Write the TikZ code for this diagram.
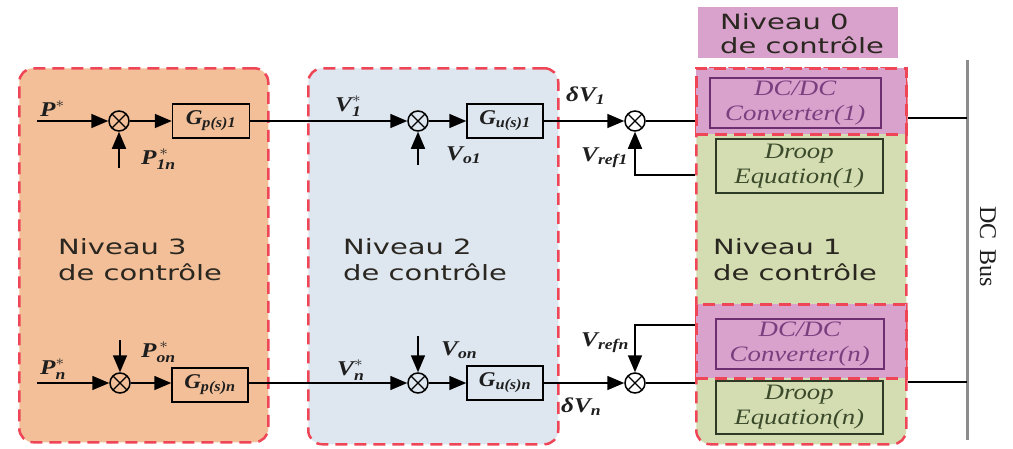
\documentclass[tikz,border=0pt]{standalone}
\usepackage{amsmath}
\usepackage{graphicx}
\usepackage{fontspec}
\setmainfont{Liberation Serif}
\newfontfamily\lvlfont{DejaVu Sans}
\usetikzlibrary{arrows.meta}
\definecolor{orangebg}{HTML}{F2BF98}
\definecolor{bluebg}{HTML}{DEE6EF}
\definecolor{greenbg}{HTML}{D4DDB2}
\definecolor{pinkbg}{HTML}{D8A2CC}
\definecolor{dashred}{HTML}{EE4656}
\definecolor{purpleb}{HTML}{6E2F70}
\definecolor{purplet}{HTML}{7B3F80}
\definecolor{olivet}{HTML}{3B4A2B}
\definecolor{oliveb}{HTML}{2F3A26}
\definecolor{labelc}{HTML}{1E1E1E}
\definecolor{lvlc}{HTML}{2A2620}
\definecolor{busgray}{HTML}{8C8C8C}
\newcommand\xsc[2]{\scalebox{#1}[1]{#2}}
\begin{document}
\begin{tikzpicture}[x=1pt,y=-1pt,
  lvl/.style={draw=dashred, line width=2.5pt, dash pattern=on 12pt off 7pt,
    rounded corners=14pt, anchor=north west, inner sep=0pt},
  region/.style={draw=dashred, line width=2.5pt, dash pattern=on 12pt off 7pt,
    fill=pinkbg, anchor=north west, inner sep=0pt},
  blk/.style={draw, line width=1.5pt, inner sep=0pt, anchor=north west},
  convbox/.style={blk, draw=purpleb, text=purplet,
    font=\fontsize{22}{25}\selectfont\itshape},
  droopbox/.style={blk, draw=oliveb, text=olivet,
    font=\fontsize{22}{25}\selectfont\itshape},
  gbox/.style={draw, line width=1.5pt, inner sep=0pt, minimum width=77pt,
    minimum height=34pt, text=labelc,
    font=\fontsize{21}{23}\selectfont\bfseries\itshape},
  sumnode/.style={circle, draw, line width=1.5pt, minimum size=20pt, inner sep=0pt,
    path picture={\draw[line width=1.2pt]
      (path picture bounding box.north west) -- (path picture bounding box.south east)
      (path picture bounding box.north east) -- (path picture bounding box.south west);}},
  arr/.style={-{Triangle[length=17pt,width=14pt]}, line width=1.6pt},
  ln/.style={line width=1.6pt},
  lbl/.style={font=\fontsize{21}{23}\selectfont\bfseries\itshape, inner sep=0pt,
    anchor=base west, text=labelc},
  lvltxt/.style={font=\lvlfont\fontsize{21}{26}\selectfont, inner sep=0pt,
    anchor=west, text=lvlc}
]
\useasboundingbox (0,0) rectangle (1013,448);
\fill[white] (0,0) rectangle (1013,448);

% level boxes
\node[lvl, fill=orangebg, minimum width=249pt, minimum height=374pt] (l3) at (18,67) {};
\node[lvl, fill=bluebg, minimum width=250pt, minimum height=376pt] (l2) at (307,67) {};
\node[lvl, fill=greenbg, minimum width=210pt, minimum height=376pt] (l1) at (695,67) {};
\node[region, minimum width=210pt, minimum height=66pt] (p1t) at (695,67) {};
\node[region, minimum width=210pt, minimum height=74pt] (p1b) at (695,303) {};

% Niveau 0 label
\node[fill=pinkbg, minimum width=200pt, minimum height=51pt, anchor=north west, inner sep=0pt] (n0) at (698,7) {};
\node[lvltxt, font=\lvlfont\fontsize{21}{22}\selectfont] (t0) at (720,37)
  {\xsc{1.38}{\begin{tabular}{@{}l@{}}Niveau 0\\de contrôle\end{tabular}}};

% level texts
\node[lvltxt] (t3) at (58,262) {\xsc{1.38}{\begin{tabular}{@{}l@{}}Niveau 3\\de contrôle\end{tabular}}};
\node[lvltxt] (t2) at (343,262) {\xsc{1.38}{\begin{tabular}{@{}l@{}}Niveau 2\\de contrôle\end{tabular}}};
\node[lvltxt] (t1) at (713,262) {\xsc{1.38}{\begin{tabular}{@{}l@{}}Niveau 1\\de contrôle\end{tabular}}};

% converter / droop blocks
\node[convbox, minimum width=171pt, minimum height=50pt] (c1) at (709,77)
  {\xsc{1.22}{\begin{tabular}{@{}c@{}}DC/DC\\Converter(1)\end{tabular}}};
\node[droopbox, minimum width=167pt, minimum height=54pt] (d1) at (715,138)
  {\xsc{1.22}{\begin{tabular}{@{}c@{}}Droop\\Equation(1)\end{tabular}}};
\node[convbox, minimum width=168pt, minimum height=50pt] (cn) at (715,318)
  {\xsc{1.22}{\begin{tabular}{@{}c@{}}DC/DC\\Converter(n)\end{tabular}}};
\node[droopbox, minimum width=167pt, minimum height=53pt] (dn) at (715,380)
  {\xsc{1.22}{\begin{tabular}{@{}c@{}}Droop\\Equation(n)\end{tabular}}};

% DC bus
\coordinate (bustop) at (967,60);
\coordinate (busbot) at (967,440);
\draw[busgray, line width=3pt] (bustop) -- (busbot);
\node[rotate=-90, font=\fontsize{24}{26}\selectfont, text=labelc] (dcbus) at (988,247) {DC\, Bus};

% top row
\node[sumnode] (s3t) at (119,121) {};
\node[gbox] (g3t) at (211,121) {\xsc{1.1}{$\text{G}_{\text{p(s)1}}$}};
\node[sumnode] (s2t) at (418,121) {};
\node[gbox, minimum width=76pt] (g2t) at (505,121) {\xsc{1.1}{$\text{G}_{\text{u(s)1}}$}};
\node[sumnode] (s1t) at (635,121) {};

% bottom row
\node[sumnode] (s3b) at (120,383) {};
\node[gbox, minimum width=76pt] (g3b) at (210,385) {\xsc{1.1}{$\text{G}_{\text{p(s)n}}$}};
\node[sumnode] (s2b) at (418,383) {};
\node[gbox, minimum width=76pt] (g2b) at (505,383) {\xsc{1.1}{$\text{G}_{\text{u(s)n}}$}};
\node[sumnode] (s1b) at (635,383) {};

% free ends
\coordinate (in3t) at (37,121);
\coordinate (in3b) at (37,383);
\coordinate (u3t) at (119,168);
\coordinate (u2t) at (418,165);
\coordinate (u3b) at (120,340);
\coordinate (u2b) at (418,336);
\coordinate (fb1) at (695,175);
\coordinate (fbn) at (695,325);
\coordinate (bt) at (967,118);
\coordinate (bb) at (967,382);

% top connectors
\draw[arr] (in3t) -- (s3t);
\draw[arr] (s3t) -- (g3t);
\draw[arr] (u3t) -- (s3t);
\draw[arr] (g3t) -- (s2t);
\draw[arr] (s2t) -- (g2t);
\draw[arr] (u2t) -- (s2t);
\draw[arr] (g2t) -- (s1t);
\draw[ln] (s1t) -- (s1t -| l1.west);
\draw[arr] (fb1) -| (s1t);
\draw[ln] (bt -| l1.east) -- (bt);

% bottom connectors
\draw[arr] (in3b) -- (s3b);
\draw[arr] (s3b) -- (s3b -| g3b.west);
\draw[arr] (u3b) -- (s3b);
\draw[arr] (s3b -| g3b.east) -- (s2b);
\draw[arr] (s2b) -- (g2b);
\draw[arr] (u2b) -- (s2b);
\draw[arr] (g2b) -- (s1b);
\draw[ln] (s1b) -- (s1b -| l1.west);
\draw[arr] (fbn) -| (s1b);
\draw[ln] (bb -| l1.east) -- (bb);

% labels
\node[lbl] (lp) at (40,116) {\xsc{1.2}{$\text{P}^{\ast}$}};
\node[lbl] (lp1n) at (141,164) {\xsc{1.2}{$\text{P}_{\text{1n}}^{\,\ast}$}};
\node[lbl] (lpn) at (40,374) {\xsc{1.2}{$\text{P}_{\text{n}}^{\ast}$}};
\node[lbl] (lpon) at (141,357) {\xsc{1.2}{$\text{P}_{\text{on}}^{\,\ast}$}};
\node[lbl] (lv1) at (335,111) {\xsc{1.2}{$\text{V}_{\text{1}}^{\ast}$}};
\node[lbl] (lvo1) at (446,160) {\xsc{1.2}{$\text{V}_{\text{o1}}$}};
\node[lbl] (lvn) at (337,375) {\xsc{1.2}{$\text{V}_{\text{n}}^{\ast}$}};
\node[lbl] (lvon) at (441,355) {\xsc{1.2}{$\text{V}_{\text{on}}$}};
\node[lbl] (ldv1) at (566,101) {\xsc{1.2}{$\text{δV}_{\text{1}}$}};
\node[lbl] (lvr1) at (581,161) {\xsc{1.2}{$\text{V}_{\text{ref1}}$}};
\node[lbl] (lvrn) at (581,346) {\xsc{1.2}{$\text{V}_{\text{refn}}$}};
\node[lbl] (ldvn) at (561,412) {\xsc{1.2}{$\text{δV}_{\text{n}}$}};
\end{tikzpicture}
\end{document}
